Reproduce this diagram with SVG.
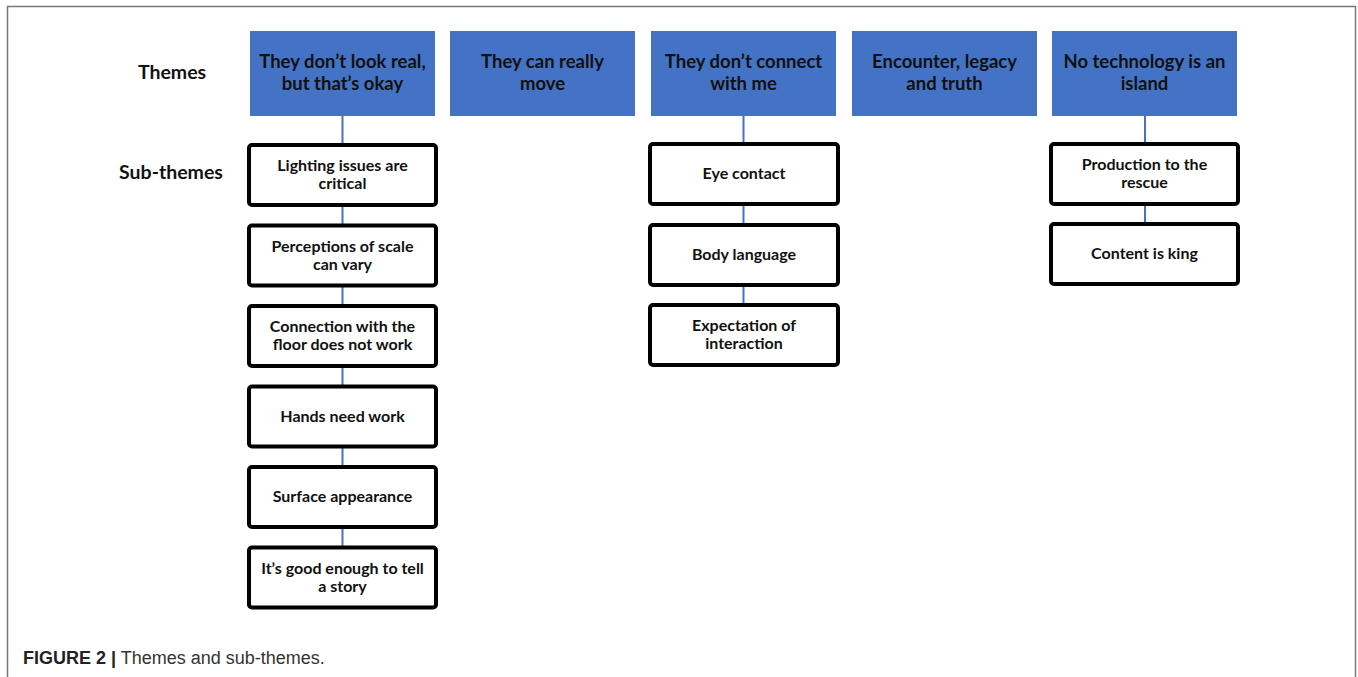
<svg xmlns="http://www.w3.org/2000/svg" width="1358" height="677" viewBox="0 0 1358 677">
<style>
.theme rect{fill:#4472C4;}
.sub rect{fill:#fff;stroke:#000;stroke-width:4;}
.t{font-family:Lato,"Open Sans",sans-serif;font-weight:bold;fill:#111;text-anchor:middle;}
.tt{font-size:18.5px;}
.st{font-size:16px;}
.lbl{font-family:Lato,"Open Sans",sans-serif;font-weight:bold;fill:#111;text-anchor:middle;font-size:19.5px;}
.conn line{stroke:#4472C4;stroke-width:2;}
</style>
<rect width="1358" height="677" fill="#fff"/>
<path d="M7.5,677 V6.5 H1355.5 V677" fill="none" stroke="#777" stroke-width="1.5"/>
<text class="lbl" x="172" y="79">Themes</text>
<text class="lbl" x="171" y="179">Sub-themes</text>
<g id="connectors" class="conn">
<line x1="342.5" y1="116" x2="342.5" y2="144"/>
<line x1="342.5" y1="206" x2="342.5" y2="224"/>
<line x1="342.5" y1="287" x2="342.5" y2="305"/>
<line x1="342.5" y1="368" x2="342.5" y2="385"/>
<line x1="342.5" y1="448" x2="342.5" y2="465"/>
<line x1="342.5" y1="528" x2="342.5" y2="546"/>
<line x1="743.5" y1="116" x2="743.5" y2="143"/>
<line x1="743.5" y1="206" x2="743.5" y2="224"/>
<line x1="743.5" y1="287" x2="743.5" y2="304"/>
<line x1="1145" y1="116" x2="1145" y2="143"/>
<line x1="1145" y1="206" x2="1145" y2="223"/>
</g>
<g id="theme1" class="theme"><rect x="250" y="31" width="185" height="85"/><text class="t tt" x="342.5" y="68">They don’t look real,</text><text class="t tt" x="342.5" y="90">but that’s okay</text></g>
<g id="theme2" class="theme"><rect x="450" y="31" width="185" height="85"/><text class="t tt" x="542.5" y="68">They can really</text><text class="t tt" x="542.5" y="90">move</text></g>
<g id="theme3" class="theme"><rect x="651" y="31" width="185" height="85"/><text class="t tt" x="743.5" y="68">They don’t connect</text><text class="t tt" x="743.5" y="90">with me</text></g>
<g id="theme4" class="theme"><rect x="852" y="31" width="185" height="85"/><text class="t tt" x="944.5" y="68">Encounter, legacy</text><text class="t tt" x="944.5" y="90">and truth</text></g>
<g id="theme5" class="theme"><rect x="1052" y="31" width="185" height="85"/><text class="t tt" x="1144.5" y="68">No technology is an</text><text class="t tt" x="1144.5" y="90">island</text></g>

<g id="sub-lighting" class="sub"><rect x="249" y="145" width="187" height="60" rx="3"/><text class="t st" x="342.5" y="171">Lighting issues are</text><text class="t st" x="342.5" y="189">critical</text></g>
<g id="sub-scale" class="sub"><rect x="249" y="225.5" width="187" height="60" rx="3"/><text class="t st" x="342.5" y="251.5">Perceptions of scale</text><text class="t st" x="342.5" y="269.5">can vary</text></g>
<g id="sub-floor" class="sub"><rect x="249" y="306" width="187" height="60" rx="3"/><text class="t st" x="342.5" y="332">Connection with the</text><text class="t st" x="342.5" y="350">floor does not work</text></g>
<g id="sub-hands" class="sub"><rect x="249" y="386.5" width="187" height="60" rx="3"/><text class="t st" x="342.5" y="421.5">Hands need work</text></g>
<g id="sub-surface" class="sub"><rect x="249" y="467" width="187" height="60" rx="3"/><text class="t st" x="342.5" y="502">Surface appearance</text></g>
<g id="sub-story" class="sub"><rect x="249" y="547.5" width="187" height="60" rx="3"/><text class="t st" x="342.5" y="573.5">It’s good enough to tell</text><text class="t st" x="342.5" y="591.5">a story</text></g>

<g id="sub-eye" class="sub"><rect x="650" y="144" width="188" height="60" rx="3"/><text class="t st" x="744" y="179">Eye contact</text></g>
<g id="sub-body" class="sub"><rect x="650" y="225" width="188" height="60" rx="3"/><text class="t st" x="744" y="260">Body language</text></g>
<g id="sub-expect" class="sub"><rect x="650" y="305" width="188" height="60" rx="3"/><text class="t st" x="744" y="331">Expectation of</text><text class="t st" x="744" y="349">interaction</text></g>

<g id="sub-production" class="sub"><rect x="1051" y="144" width="187" height="60" rx="3"/><text class="t st" x="1144.5" y="170">Production to the</text><text class="t st" x="1144.5" y="188">rescue</text></g>
<g id="sub-content" class="sub"><rect x="1051" y="224" width="187" height="60" rx="3"/><text class="t st" x="1144.5" y="259">Content is king</text></g>

<text x="23" y="664" font-family="Liberation Sans, Arial, sans-serif" font-size="18" fill="#333"><tspan font-weight="bold" fill="#222">FIGURE 2 |</tspan> Themes and sub-themes.</text>
</svg>
